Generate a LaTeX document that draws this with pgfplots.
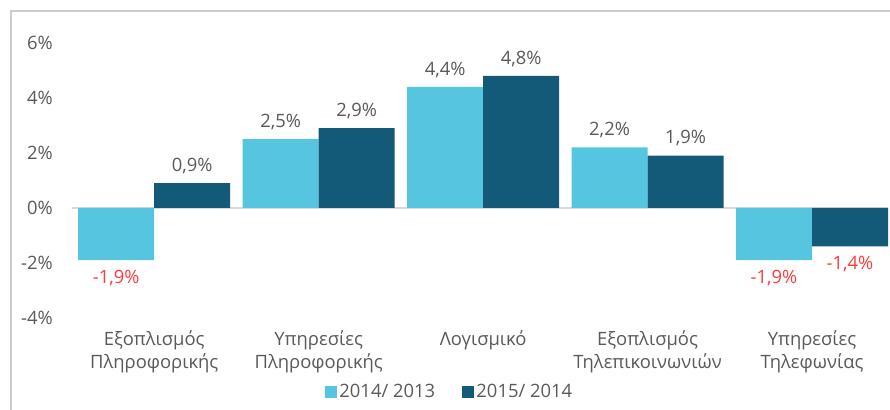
\documentclass[border=0pt]{standalone}
\usepackage{fontspec}
\setmainfont{Open Sans}
\usepackage{pgfplots}
\pgfplotsset{compat=1.18}
\definecolor{lightb}{HTML}{55C5E0}
\definecolor{darkb}{HTML}{135A78}
\definecolor{txt}{HTML}{595959}
\definecolor{negred}{HTML}{FF3B3B}
\definecolor{framec}{HTML}{CCCCCC}
\definecolor{zeroc}{HTML}{D9D9D9}
\begin{document}
\fontsize{13.8pt}{17.25pt}\selectfont
\begin{tikzpicture}
\useasboundingbox (-54pt,-69pt) rectangle (613.5pt,238.5pt);
\draw[framec, line width=1.1pt] (-45.75pt,-69pt) -- (-45.75pt,230.25pt) -- (613.5pt,230.25pt);
\begin{axis}[
  at={(0pt,0pt)}, anchor=south west,
  scale only axis, width=612pt, height=206.25pt,
  ymin=-4, ymax=6, ytick={-4,-2,...,6},
  xmin=-0.5, xmax=4.462,
  axis line style={draw=none},
  major tick length=0pt,
  tick style={draw=none},
  ybar=0pt, bar width=57pt,
  xtick={0,1,2,3,4},
  xticklabels={{Εξοπλισμός\\Πληροφορικής},{Υπηρεσίες\\Πληροφορικής},{Λογισμικό},{Εξοπλισμός\\Τηλεπικοινωνιών},{Υπηρεσίες\\Τηλεφωνίας}},
  xticklabel style={anchor=north, inner sep=0pt, yshift=-9pt, align=center, text=txt, font=\fontsize{13.8pt}{17.25pt}\selectfont},
  yticklabel={\pgfmathprintnumber[fixed,precision=0]{\tick}\%},
  yticklabel style={anchor=east, inner sep=0pt, xshift=-14.25pt, text=txt, font=\fontsize{13.8pt}{17.25pt}\selectfont},
  /pgf/number format/assume math mode=true,
  extra y ticks={0}, extra y tick labels={},
  extra y tick style={grid=major, grid style={zeroc, line width=1.5pt}},
  nodes near coords={\pgfmathfloatifflags{\pgfplotspointmeta}{-}{\color{negred}}{\color{txt}}\pgfmathprintnumber[fixed,fixed zerofill,precision=1,use comma]{\pgfplotspointmeta}\%},
  nodes near coords align=vertical,
  every node near coord/.append style={inner sep=7pt, font=\fontsize{13.8pt}{17.25pt}\selectfont},
  legend style={at={(rel axis cs:0.463,-0.269)}, anchor=center, draw=none, fill=none,
    legend columns=-1, text=txt, font=\fontsize{13.8pt}{17.25pt}\selectfont,
    /tikz/every even column/.append style={column sep=18pt}},
  legend image code/.code={\fill[#1] (0pt,-4.5pt) rectangle (9pt,4.5pt);},
]
\addplot[fill=lightb, draw=none] coordinates {(0,-1.9) (1,2.5) (2,4.4) (3,2.2) (4,-1.9)};
\addplot[fill=darkb, draw=none] coordinates {(0,0.9) (1,2.9) (2,4.8) (3,1.9) (4,-1.4)};
\legend{2014/ 2013, 2015/ 2014}
\end{axis}
\end{tikzpicture}
\end{document}
